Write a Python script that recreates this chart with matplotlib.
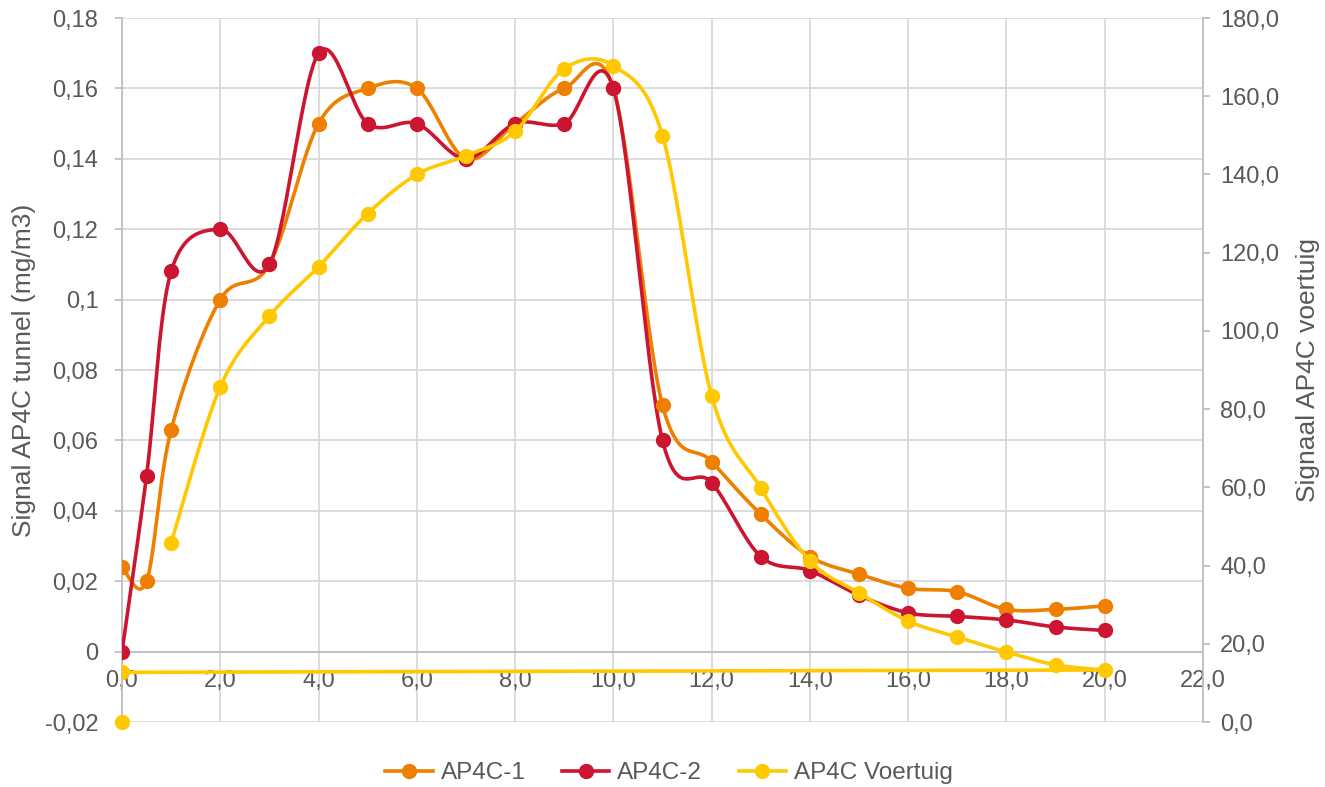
import numpy as np
import matplotlib
matplotlib.use("Agg")
import matplotlib.pyplot as plt
from matplotlib.ticker import FixedLocator, FuncFormatter
from matplotlib.lines import Line2D

# --- data -------------------------------------------------------------
tijd_tunnel = [0, 0.5, 1, 2, 3, 4, 5, 6, 7, 8, 9, 10, 11, 12, 13, 14, 15, 16, 17, 18, 19, 20]
ap4c_1 = [0.024, 0.020, 0.063, 0.100, 0.110, 0.150, 0.160, 0.160, 0.140, 0.150, 0.160,
          0.160, 0.070, 0.054, 0.039, 0.027, 0.022, 0.018, 0.017, 0.012, 0.012, 0.013]
ap4c_2 = [0.000, 0.050, 0.108, 0.120, 0.110, 0.170, 0.150, 0.150, 0.140, 0.150, 0.150,
          0.160, 0.060, 0.048, 0.027, 0.023, 0.016, 0.011, 0.010, 0.009, 0.007, 0.006]

# vehicle signal: a first lone reading, then the trace 1..20 closing at t=0
voertuig_start_t = [0]
voertuig_start_v = [0.0]
voertuig_t = [1, 2, 3, 4, 5, 6, 7, 8, 9, 10, 11, 12, 13, 14, 15, 16, 17, 18, 19, 20, 0]
voertuig_v = [45.8, 85.7, 103.8, 116.4, 130.0, 140.0, 144.8, 151.0, 167.0, 167.8, 149.9,
              83.4, 59.8, 41.2, 33.0, 25.8, 21.7, 17.9, 14.6, 13.3, 12.7]

series_names = ["AP4C-1", "AP4C-2", "AP4C Voertuig"]
x_ticks = np.arange(0, 22.1, 2)
left_ticks = np.round(np.arange(-0.02, 0.181, 0.02), 2)
right_ticks = np.arange(0, 181, 20)

# --- style ------------------------------------------------------------
C_ORANGE = "#EE7F00"
C_RED = "#CC1530"
C_YELLOW = "#FFC800"
C_TEXT = "#595959"
C_GRID = "#D9D9D9"
C_AXIS = "#BFBFBF"
FS_TICK = 17
FS_LABEL = 19
FS_LEG = 17.5
plt.rcParams["font.family"] = ["Liberation Sans", "DejaVu Sans"]


def smooth(x, y, n=30):
    """Bezier smoothing through every point (Catmull-Rom style)."""
    p = np.column_stack([x, y]).astype(float)
    if len(p) < 3:
        return p[:, 0], p[:, 1]
    ext = np.vstack([p[0], p, p[-1]])
    out = []
    t = np.linspace(0, 1, n)[:, None]
    for i in range(1, len(ext) - 2):
        p0, p3 = ext[i], ext[i + 1]
        c1 = p0 + (ext[i + 1] - ext[i - 1]) / 6.0
        c2 = p3 - (ext[i + 2] - ext[i]) / 6.0
        seg = ((1 - t) ** 3) * p0 + 3 * ((1 - t) ** 2) * t * c1 + 3 * (1 - t) * t ** 2 * c2 + t ** 3 * p3
        out.append(seg if i == 1 else seg[1:])
    out = np.vstack(out)
    return out[:, 0], out[:, 1]


fig = plt.figure(figsize=(13.25, 7.87), dpi=100)
ax = fig.add_axes([122 / 1325, 1 - 722 / 787, (1203 - 122) / 1325, (722 - 18) / 787])
ax2 = ax.twinx()

LW = 2.6
MS = 10

for yv, col in ((ap4c_1, C_ORANGE), (ap4c_2, C_RED)):
    sx, sy = smooth(tijd_tunnel, yv)
    ax.plot(sx, sy, color=col, lw=LW, solid_capstyle="round", zorder=3)
    ax.plot(tijd_tunnel, yv, "o", color=col, ms=MS, zorder=4)

# vehicle trace: smoothed through 1..20, then straight back to the t=0 reading
sx, sy = smooth(voertuig_t[:-1], voertuig_v[:-1])
sx = np.append(sx, voertuig_t[-1])
sy = np.append(sy, voertuig_v[-1])
ax2.plot(sx, sy, color=C_YELLOW, lw=LW, solid_capstyle="round", zorder=3)
ax2.plot(voertuig_t, voertuig_v, "o", color=C_YELLOW, ms=MS, zorder=4)
ax2.plot(voertuig_start_t, voertuig_start_v, "o", color=C_YELLOW, ms=MS, zorder=4, clip_on=False)

# --- axes -------------------------------------------------------------
ax.set_xlim(0, 22)
ax.set_ylim(-0.02, 0.18)
ax2.set_ylim(0, 180)

ax.xaxis.set_major_locator(FixedLocator(x_ticks))
ax.yaxis.set_major_locator(FixedLocator(left_ticks))
ax2.yaxis.set_major_locator(FixedLocator(right_ticks))


def fmt_left(v, _):
    v = round(v, 2)
    if abs(v) < 1e-9:
        return "0"
    return ("%g" % v).replace(".", ",")


ax.yaxis.set_major_formatter(FuncFormatter(fmt_left))
ax.xaxis.set_major_formatter(FuncFormatter(lambda v, _: ("%.1f" % v).replace(".", ",")))
ax2.yaxis.set_major_formatter(FuncFormatter(lambda v, _: ("%.1f" % v).replace(".", ",")))

ax.grid(True, color=C_GRID, lw=1.3, zorder=0)
ax.set_axisbelow(True)

for s in ("top", "right"):
    ax.spines[s].set_visible(False)
ax.spines["left"].set_color(C_AXIS)
ax.spines["left"].set_linewidth(1.3)
ax.spines["bottom"].set_position(("data", 0))
ax.spines["bottom"].set_color(C_AXIS)
ax.spines["bottom"].set_linewidth(1.3)

for s in ("top", "left", "bottom"):
    ax2.spines[s].set_visible(False)
ax2.spines["right"].set_color(C_AXIS)
ax2.spines["right"].set_linewidth(1.3)

ax.tick_params(axis="x", length=0, pad=13, labelsize=FS_TICK, labelcolor=C_TEXT)
ax.tick_params(axis="y", length=5, width=1.3, color=C_AXIS, pad=12, labelsize=FS_TICK, labelcolor=C_TEXT)
ax2.tick_params(axis="y", length=5, width=1.3, color=C_AXIS, pad=7.5, labelsize=FS_TICK, labelcolor=C_TEXT)

ax.set_ylabel("Signal AP4C tunnel (mg/m3)", fontsize=FS_LABEL, color=C_TEXT,
              va="center", ha="center")
ax2.set_ylabel("Signaal AP4C voertuig", fontsize=FS_LABEL, color=C_TEXT,
               va="center", ha="center")
ax.yaxis.set_label_coords((24 - 122) / 1081, 0.5)
ax2.yaxis.set_label_coords((1308 - 122) / 1081, 0.5)

handles = [Line2D([], [], color=c, lw=LW, marker="o", ms=MS)
           for c in (C_ORANGE, C_RED, C_YELLOW)]
fig.legend(handles, series_names, loc="center", bbox_to_anchor=(669 / 1325, 1 - 773 / 787),
           ncol=3, frameon=False, fontsize=FS_LEG, labelcolor=C_TEXT,
           handlelength=1.95, handletextpad=0.33, columnspacing=1.5)

fig.savefig("out.png", dpi=100)
